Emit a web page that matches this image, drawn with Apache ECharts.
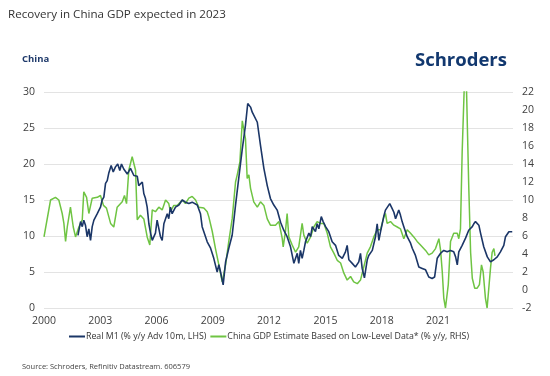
<!DOCTYPE html>
<html>
<head>
<meta charset="utf-8">
<script src="https://cdn.jsdelivr.net/npm/echarts@6/dist/echarts.min.js"></script>
<style>
html,body{margin:0;padding:0;background:#fff;}
#chart{width:550px;height:376px;}
</style>
</head>
<body>
<div id="chart"></div>
<script>
// x values are decimal years
const xTickLabels = [2000, 2003, 2006, 2009, 2012, 2015, 2018, 2021];
const leftTicks = [0, 5, 10, 15, 20, 25, 30];
const rightTicks = [-2, 0, 2, 4, 6, 8, 10, 12, 14, 16, 18, 20, 22];

const m1Dates = [2001.81,2001.95,2002.04,2002.12,2002.21,2002.30,2002.39,2002.48,2002.57,2002.66,2002.75,2002.84,2002.92,
  2003.01,2003.10,2003.19,2003.28,2003.37,2003.45,2003.58,2003.69,2003.81,2003.93,2004.04,2004.13,2004.25,2004.44,2004.61,2004.79,
  2004.97,2005.05,2005.24,2005.32,2005.41,2005.50,2005.59,2005.68,2005.77,2005.85,2005.94,2006.03,2006.12,2006.21,2006.30,2006.39,
  2006.48,2006.57,2006.65,2006.74,2006.83,2007.01,2007.19,2007.37,2007.54,2007.72,2007.90,2008.17,2008.34,2008.43,2008.52,2008.70,
  2008.88,2009.05,2009.23,2009.32,2009.41,2009.55,2009.68,2009.85,2010.03,2010.21,2010.38,2010.57,2010.74,2010.86,2011.01,2011.10,
  2011.18,2011.37,2011.54,2011.72,2011.90,2012.07,2012.25,2012.43,2012.61,2012.78,2012.96,2013.14,2013.32,2013.50,2013.58,2013.67,
  2013.76,2013.85,2013.94,2014.12,2014.21,2014.30,2014.47,2014.56,2014.65,2014.78,2014.88,2015.01,2015.18,2015.36,2015.54,2015.71,
  2015.90,2016.07,2016.16,2016.25,2016.43,2016.60,2016.78,2016.87,2016.96,2017.08,2017.23,2017.31,2017.50,2017.67,2017.76,2017.85,
  2017.94,2018.03,2018.11,2018.20,2018.29,2018.43,2018.56,2018.65,2018.74,2018.83,2018.91,2019.00,2019.09,2019.18,2019.36,2019.54,
  2019.63,2019.80,2019.98,2020.16,2020.34,2020.51,2020.69,2020.82,2020.96,2021.05,2021.14,2021.31,2021.49,2021.67,2021.84,2021.94,
  2022.03,2022.11,2022.29,2022.47,2022.64,2022.83,2022.91,2023.00,2023.09,2023.18,2023.27,2023.44,2023.63,2023.80,2023.98,2024.16,
  2024.33,2024.51,2024.60,2024.78,2024.87,2024.96];
const m1Values = [10.1,12.0,11.3,12.2,11.5,9.9,11.0,9.4,11.3,12.2,12.4,13.1,13.3,
  14.0,15.0,15.4,17.3,17.7,18.7,19.8,18.9,19.6,20.0,19.1,20.0,19.3,18.6,19.4,18.4,
  18.3,17.0,17.5,15.9,15.2,14.0,11.7,10.4,9.4,9.2,10.4,12.2,12.4,9.9,9.4,11.7,
  11.7,13.1,12.4,14.0,13.1,14.0,14.3,15.0,14.7,14.5,14.7,14.3,13.1,11.3,11.5,9.2,
  8.3,6.9,5.0,6.0,5.0,3.2,6.4,8.3,10.1,14.3,18.0,22.1,25.4,28.4,27.9,27.2,
  27.4,25.8,22.6,19.4,17.0,15.2,14.3,13.6,11.9,10.8,9.9,8.5,6.2,7.6,6.2,8.0,
  6.9,8.0,9.2,10.4,9.9,11.3,10.6,11.7,11.0,12.7,12.0,11.3,10.6,9.2,8.7,7.3,
  6.9,7.8,8.7,6.7,6.2,5.7,6.4,7.6,5.5,4.2,6.7,7.3,8.0,9.9,11.7,9.4,
  10.6,10.8,12.7,13.6,13.8,14.5,13.8,13.3,12.4,12.2,13.6,12.9,12.0,11.3,9.9,9.0,
  8.3,7.3,5.7,5.5,5.3,4.3,4.1,4.3,6.9,6.9,7.6,8.0,7.8,8.0,7.8,7.1,
  6.0,7.8,8.7,9.7,10.8,11.3,11.7,12.0,12.2,11.5,10.4,8.5,7.1,6.4,6.7,7.1,
  7.8,8.7,9.9,10.6,10.8,10.6];

const gdpDates = [2000.00,2000.35,2000.61,2000.79,2000.97,2001.06,2001.15,2001.24,2001.41,2001.56,2001.68,2001.86,2002.04,2002.12,
  2002.27,2002.39,2002.57,2002.84,2003.01,2003.17,2003.33,2003.55,2003.72,2003.90,2004.17,2004.29,2004.40,2004.52,2004.70,2004.79,
  2004.88,2004.97,2005.14,2005.32,2005.50,2005.64,2005.77,2005.94,2006.12,2006.30,2006.48,2006.65,2006.74,2006.92,2007.10,2007.37,
  2007.54,2007.72,2007.90,2008.08,2008.25,2008.52,2008.70,2008.79,2008.97,2009.14,2009.32,2009.50,2009.68,2009.85,2010.03,2010.21,
  2010.30,2010.44,2010.57,2010.65,2010.74,2010.83,2010.92,2011.01,2011.18,2011.37,2011.54,2011.72,2011.90,2012.07,2012.34,2012.52,
  2012.70,2012.75,2012.87,2012.96,2013.05,2013.23,2013.41,2013.58,2013.76,2013.85,2014.03,2014.21,2014.38,2014.56,2014.74,2014.92,
  2015.10,2015.27,2015.45,2015.63,2015.81,2015.98,2016.16,2016.34,2016.51,2016.70,2016.87,2017.05,2017.23,2017.40,2017.58,2017.76,
  2017.94,2018.11,2018.20,2018.29,2018.47,2018.65,2018.83,2019.00,2019.18,2019.36,2019.54,2019.71,2019.89,2020.07,2020.34,2020.51,
  2020.69,2020.87,2021.05,2021.14,2021.23,2021.31,2021.40,2021.55,2021.67,2021.84,2022.03,2022.11,2022.20,2022.29,2022.47,2022.64,
  2022.74,2022.83,2022.96,2023.09,2023.21,2023.32,2023.41,2023.53,2023.62,2023.71,2023.80,2023.89,2023.98,2024.04];
const gdpValues = [5.9,10.0,10.3,10.0,8.5,7.4,5.4,7.0,9.2,7.0,5.9,7.0,7.8,10.9,
  10.3,8.5,10.2,10.3,10.5,9.4,9.1,7.4,7.0,9.2,9.8,10.5,9.6,13.3,14.8,15.0,
  13.3,7.8,8.3,7.9,5.9,5.0,8.9,8.7,9.2,8.9,10.0,9.6,8.7,9.4,9.4,10.0,
  9.6,10.2,10.4,10.0,9.2,9.1,8.7,8.1,6.5,4.6,2.8,0.9,2.8,5.4,7.9,12.0,
  12.8,14.2,18.8,18.7,16.8,12.4,12.8,11.3,9.8,9.2,9.8,9.4,7.9,7.2,7.2,7.6,
  5.7,4.8,6.5,8.5,5.9,5.0,4.2,4.8,7.4,6.1,5.2,5.9,7.0,7.6,7.4,7.4,
  6.3,4.8,4.1,3.3,3.0,1.9,1.1,1.5,0.9,0.7,1.1,2.6,4.1,4.8,5.9,6.7,
  6.7,8.1,8.5,7.4,7.6,7.2,7.0,6.8,5.7,6.7,6.3,5.9,5.4,5.0,4.4,3.9,
  4.1,4.6,5.7,4.4,2.0,-0.9,-2.0,0.6,5.4,6.3,6.3,5.7,6.8,15.3,27.0,11.6,
  4.2,1.3,0.2,0.2,0.6,2.8,2.0,-0.9,-2.0,-2.0,2.4,4.2,4.6,3.8];

const chart = echarts.init(document.getElementById('chart'), null, {renderer: 'canvas'});
const FONT = '"Open Sans", "Noto Sans", sans-serif';
const BLUE = '#1b3667';
const GREEN = '#6fc443';

const option = {
  backgroundColor: '#ffffff',
  animation: false,
  textStyle: {fontFamily: FONT},
  title: [
    {text: 'Recovery in China GDP expected in 2023', left: 8, top: 9, padding: 0,
     textStyle: {fontSize: 11.6, fontWeight: 'normal', color: '#333333', fontFamily: FONT}},
    {text: 'China', left: 22, top: 54, padding: 0,
     textStyle: {fontSize: 9.5, fontWeight: 'bold', color: '#1f3a6b', fontFamily: FONT}},
    {text: 'Schroders', left: 415, top: 51, padding: 0,
     textStyle: {fontSize: 18.5, fontWeight: 'bold', color: '#12386f', fontFamily: FONT}},
    {text: 'Source: Schroders, Refinitiv Datastream. 606579', left: 22, top: 363, padding: 0,
     textStyle: {fontSize: 7.5, fontWeight: 'normal', color: '#444444', fontFamily: FONT}}
  ],
  legend: {
    left: 64, top: 327, width: 480,
    icon: 'rect', itemWidth: 16, itemHeight: 2, itemGap: 4,
    textStyle: {fontSize: 8.8, color: '#333333', fontFamily: FONT, padding: [0, 0, 0, -4]},
    data: ['Real M1 (% y/y Adv 10m, LHS)', 'China GDP Estimate Based on Low-Level Data* (% y/y, RHS)']
  },
  grid: {left: 44, right: 37, top: 92, bottom: 68, containLabel: false},
  xAxis: {
    type: 'value', min: 2000, max: 2025,
    axisLine: {show: false}, axisTick: {show: false}, splitLine: {show: false},
    axisLabel: {customValues: xTickLabels, formatter: v => String(v), fontSize: 10.5, color: '#404040', margin: 8, fontFamily: FONT}
  },
  yAxis: [
    {type: 'value', min: leftTicks[0], max: leftTicks[leftTicks.length - 1], interval: 5, position: 'left',
     axisLine: {show: false}, axisTick: {show: false},
     splitLine: {show: true, lineStyle: {color: '#e3e3e3', width: 1}},
     axisLabel: {fontSize: 10.5, color: '#404040', margin: 9, fontFamily: FONT}},
    {type: 'value', min: rightTicks[0], max: rightTicks[rightTicks.length - 1], interval: 2, position: 'right',
     axisLine: {show: false}, axisTick: {show: false}, splitLine: {show: false},
     axisLabel: {fontSize: 10.5, color: '#404040', margin: 9, fontFamily: FONT}}
  ],
  series: [
    {name: 'China GDP Estimate Based on Low-Level Data* (% y/y, RHS)', type: 'line', yAxisIndex: 1,
     data: gdpDates.map((d, i) => [d, gdpValues[i]]), symbol: 'none', clip: true,
     lineStyle: {color: GREEN, width: 1.5}, itemStyle: {color: GREEN}, z: 2},
    {name: 'Real M1 (% y/y Adv 10m, LHS)', type: 'line', yAxisIndex: 0,
     data: m1Dates.map((d, i) => [d, m1Values[i]]), symbol: 'none', clip: true,
     lineStyle: {color: BLUE, width: 1.6}, itemStyle: {color: BLUE}, z: 3}
  ]
};
chart.setOption(option);
</script>
</body>
</html>
